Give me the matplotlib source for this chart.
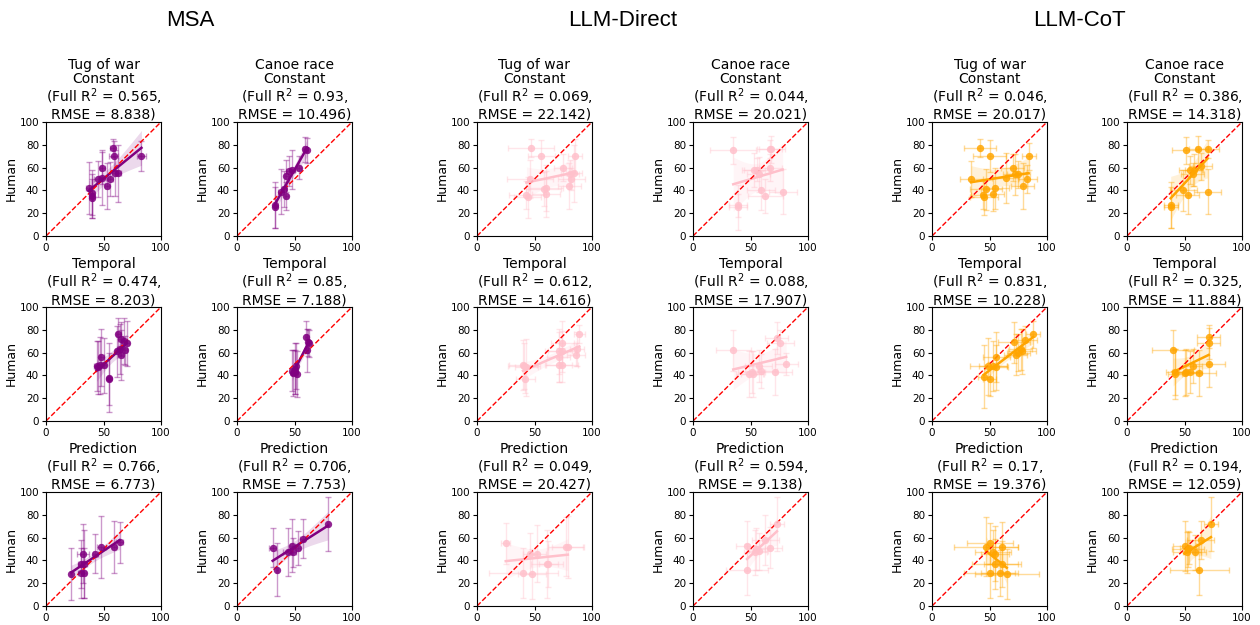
import numpy as np
import matplotlib
matplotlib.use("Agg")
import matplotlib.pyplot as plt

# ---- data (x = model, y = human) ----
msa_tug_const = dict(
    x=[37, 40, 40, 40, 45, 49, 49, 53, 56, 58, 59, 60, 63, 83],
    y=[42, 38, 35, 33, 50, 51, 60, 44, 50, 77, 70, 55, 55, 70],
    xerr=[2, 2, 1, 1, 3, 3, 2, 2, 2, 2, 4, 3, 2, 4],
    yerr=[23, 20, 19, 17, 16, 24, 14, 20, 15, 8, 13, 20, 25, 13])
msa_canoe_const = dict(
    x=[33, 33, 38, 41, 43, 43, 45, 48, 54, 59, 61],
    y=[27, 25, 39, 41, 53, 35, 57, 58, 60, 76, 75],
    xerr=[1, 1, 2, 2, 1, 1, 2, 2, 2, 2, 1],
    yerr=[20, 18, 20, 16, 14, 12, 13, 17, 10, 11, 11])
msa_tug_temp = dict(
    x=[44, 45, 47, 48, 50, 55, 55, 62, 63, 64, 65, 65, 68, 70, 69],
    y=[48, 47, 49, 56, 49, 38, 37, 61, 76, 63, 72, 58, 70, 68, 62],
    xerr=[2, 2, 3, 2, 2, 1, 1, 2, 2, 2, 2, 2, 2, 2, 1],
    yerr=[22, 23, 25, 25, 24, 30, 23, 22, 14, 22, 15, 22, 20, 20, 13])
msa_canoe_temp = dict(
    x=[48, 49, 50, 50, 51, 52, 60, 61, 62, 63],
    y=[44, 42, 46, 43, 48, 41, 74, 62, 69, 68],
    xerr=[1, 1, 2, 1, 1, 1, 1, 1, 1, 1],
    yerr=[18, 20, 22, 19, 20, 20, 14, 19, 12, 12])
msa_tug_pred = dict(
    x=[22, 30, 30, 32, 33, 33, 43, 48, 59, 64],
    y=[28, 37, 29, 46, 37, 29, 46, 52, 52, 56],
    xerr=[1, 2, 2, 5, 3, 2, 2, 4, 2, 3],
    yerr=[23, 21, 22, 26, 30, 22, 17, 27, 23, 18])
msa_canoe_pred = dict(
    x=[31, 35, 44, 48, 49, 53, 57, 79],
    y=[51, 32, 47, 53, 47, 51, 59, 72],
    xerr=[3, 1, 4, 2, 2, 2, 2, 1],
    yerr=[17, 23, 21, 23, 13, 15, 17, 24])

direct_tug_const = dict(
    x=[43, 44, 46, 47, 56, 58, 60, 60, 75, 80, 81, 82, 84, 85],
    y=[36, 34, 50, 77, 70, 41, 42, 37, 60, 44, 54, 50, 55, 70],
    xerr=[15, 12, 20, 20, 12, 15, 15, 12, 8, 10, 8, 12, 7, 6],
    yerr=[12, 18, 17, 8, 14, 15, 20, 20, 12, 20, 13, 10, 25, 15])
direct_canoe_const = dict(
    x=[35, 39, 39, 53, 56, 57, 59, 63, 67, 68, 67, 78],
    y=[75, 27, 25, 58, 58, 54, 40, 35, 76, 76, 60, 39],
    xerr=[20, 8, 8, 10, 12, 10, 12, 15, 10, 12, 10, 12],
    yerr=[12, 10, 20, 15, 10, 15, 17, 15, 8, 12, 12, 20])
direct_tug_temp = dict(
    x=[40, 41, 42, 43, 71, 71, 71, 74, 74, 74, 86, 87, 89],
    y=[49, 48, 37, 47, 61, 56, 49, 61, 68, 49, 58, 63, 76],
    xerr=[12, 14, 8, 10, 12, 10, 12, 12, 10, 14, 8, 6, 5],
    yerr=[22, 20, 12, 25, 20, 22, 15, 18, 20, 15, 10, 15, 8])
direct_canoe_temp = dict(
    x=[35, 49, 51, 52, 57, 59, 71, 73, 76, 81],
    y=[62, 41, 43, 41, 48, 44, 43, 73, 68, 50],
    xerr=[15, 12, 12, 10, 12, 14, 15, 10, 12, 10],
    yerr=[18, 20, 18, 20, 14, 15, 20, 14, 12, 10])
direct_tug_pred = dict(
    x=[25, 40, 46, 48, 52, 61, 62, 77, 79],
    y=[55, 29, 46, 28, 46, 37, 37, 52, 52],
    xerr=[4, 30, 6, 12, 8, 14, 8, 15, 14],
    yerr=[18, 22, 18, 22, 25, 30, 20, 26, 27])
direct_canoe_pred = dict(
    x=[47, 47, 54, 55, 57, 63, 67, 73],
    y=[32, 53, 47, 50, 48, 58, 51, 72],
    xerr=[18, 10, 10, 8, 8, 12, 10, 6],
    yerr=[22, 22, 20, 18, 16, 22, 18, 24])

cot_tug_const = dict(
    x=[34, 42, 44, 45, 47, 50, 53, 55, 64, 70, 72, 75, 79, 83, 84],
    y=[50, 77, 36, 34, 41, 70, 37, 42, 51, 60, 54, 54, 44, 50, 70],
    xerr=[10, 14, 10, 12, 14, 14, 10, 12, 12, 10, 10, 10, 10, 8, 6],
    yerr=[16, 8, 12, 16, 18, 14, 15, 18, 22, 12, 18, 12, 20, 12, 12])
cot_canoe_const = dict(
    x=[38, 38, 49, 51, 53, 55, 57, 58, 62, 64, 70, 70],
    y=[27, 25, 40, 75, 36, 58, 54, 58, 76, 61, 76, 39],
    xerr=[6, 6, 12, 12, 10, 10, 10, 8, 8, 10, 10, 12],
    yerr=[20, 18, 18, 12, 17, 12, 10, 14, 12, 12, 8, 20])
cot_tug_temp = dict(
    x=[45, 49, 50, 53, 56, 56, 71, 73, 75, 77, 78, 81, 88],
    y=[39, 48, 37, 48, 56, 47, 69, 58, 60, 63, 61, 71, 76],
    xerr=[5, 16, 6, 12, 12, 10, 14, 10, 10, 10, 12, 10, 6],
    yerr=[28, 25, 15, 22, 22, 20, 18, 18, 16, 18, 20, 12, 12])
cot_canoe_temp = dict(
    x=[40, 42, 42, 50, 51, 55, 57, 63, 71, 71, 71],
    y=[62, 43, 41, 42, 43, 43, 48, 42, 74, 68, 50],
    xerr=[18, 8, 6, 10, 12, 10, 8, 14, 10, 10, 14],
    yerr=[18, 20, 22, 20, 20, 18, 15, 20, 10, 14, 20])
cot_tug_pred = dict(
    x=[47, 50, 50, 53, 55, 55, 59, 61, 61, 65],
    y=[52, 55, 29, 47, 46, 37, 29, 52, 37, 28],
    xerr=[28, 20, 22, 16, 12, 20, 16, 14, 16, 28],
    yerr=[26, 18, 22, 20, 24, 22, 20, 22, 20, 22])
cot_canoe_pred = dict(
    x=[50, 52, 53, 54, 59, 63, 64, 73],
    y=[53, 47, 50, 51, 47, 32, 58, 72],
    xerr=[10, 12, 14, 8, 10, 26, 12, 6],
    yerr=[22, 18, 16, 14, 15, 22, 17, 24])

models = ["MSA", "LLM-Direct", "LLM-CoT"]
model_colors = ["purple", "pink", "orange"]
scenarios = ["Tug of war", "Canoe race"]
conditions = ["Constant", "Temporal", "Prediction"]

# [model][row][col]
panels = [
    [[msa_tug_const, msa_canoe_const], [msa_tug_temp, msa_canoe_temp], [msa_tug_pred, msa_canoe_pred]],
    [[direct_tug_const, direct_canoe_const], [direct_tug_temp, direct_canoe_temp],
     [direct_tug_pred, direct_canoe_pred]],
    [[cot_tug_const, cot_canoe_const], [cot_tug_temp, cot_canoe_temp], [cot_tug_pred, cot_canoe_pred]],
]
r2_vals = [
    [["0.565", "0.93"], ["0.474", "0.85"], ["0.766", "0.706"]],
    [["0.069", "0.044"], ["0.612", "0.088"], ["0.049", "0.594"]],
    [["0.046", "0.386"], ["0.831", "0.325"], ["0.17", "0.194"]],
]
rmse_vals = [
    [["8.838", "10.496"], ["8.203", "7.188"], ["6.773", "7.753"]],
    [["22.142", "20.021"], ["14.616", "17.907"], ["20.427", "9.138"]],
    [["20.017", "14.318"], ["10.228", "11.884"], ["19.376", "12.059"]],
]


def reg_with_ci(ax, x, y, color):
    # ordinary least squares line with a 95% band, drawn over the data range
    x = np.asarray(x, float)
    y = np.asarray(y, float)
    slope, icpt = np.polyfit(x, y, 1)
    grid = np.linspace(x.min(), x.max(), 100)
    fit = slope * grid + icpt
    n = len(x)
    resid = y - (slope * x + icpt)
    s = np.sqrt(np.sum(resid ** 2) / (n - 2))
    sxx = np.sum((x - x.mean()) ** 2)
    half = 2.2 * s * np.sqrt(1.0 / n + (grid - x.mean()) ** 2 / sxx)
    ax.fill_between(grid, fit - half, fit + half, color=color, alpha=0.15, lw=0)
    ax.plot(grid, fit, color=color, lw=1.8)


fig = plt.figure(figsize=(12.6, 6.25), dpi=100)

col_left = [46, 237, 477, 693, 932, 1127]
row_top = [122, 307, 492]
W, H = 115, 114
group_x = [190, 623, 1079]

for m in range(3):
    fig.text(group_x[m] / 1260, 1 - 21 / 625, models[m], ha="center", va="center",
             fontsize=16, family="Liberation Sans")
    for r in range(3):
        for c in range(2):
            d = panels[m][r][c]
            color = model_colors[m]
            left = col_left[2 * m + c]
            ax = fig.add_axes([left / 1260, 1 - (row_top[r] + H) / 625, W / 1260, H / 625])
            ax.errorbar(d["x"], d["y"], xerr=d["xerr"], yerr=d["yerr"], fmt="none",
                        ecolor=color, alpha=0.4, elinewidth=1, capsize=2)
            ax.scatter(d["x"], d["y"], color=color, s=28, alpha=0.85, lw=0, zorder=3)
            reg_with_ci(ax, d["x"], d["y"], color)
            ax.plot([0, 100], [0, 100], "r--", lw=1)
            ax.set_xlim(0, 100)
            ax.set_ylim(0, 100)
            ax.set_xticks([0, 50, 100])
            ax.set_yticks([0, 20, 40, 60, 80, 100])
            ax.tick_params(labelsize=7.5, length=3, pad=2)
            ax.set_ylabel("Human", fontsize=9, labelpad=1)
            head = f"{scenarios[c]}\n" if r == 0 else ""
            ax.set_title(f"{head}{conditions[r]}\n(Full R$^2$ = {r2_vals[m][r][c]},\n"
                         f"RMSE = {rmse_vals[m][r][c]})", fontsize=10, linespacing=1.05, pad=2)

fig.savefig("out.png", dpi=100)
